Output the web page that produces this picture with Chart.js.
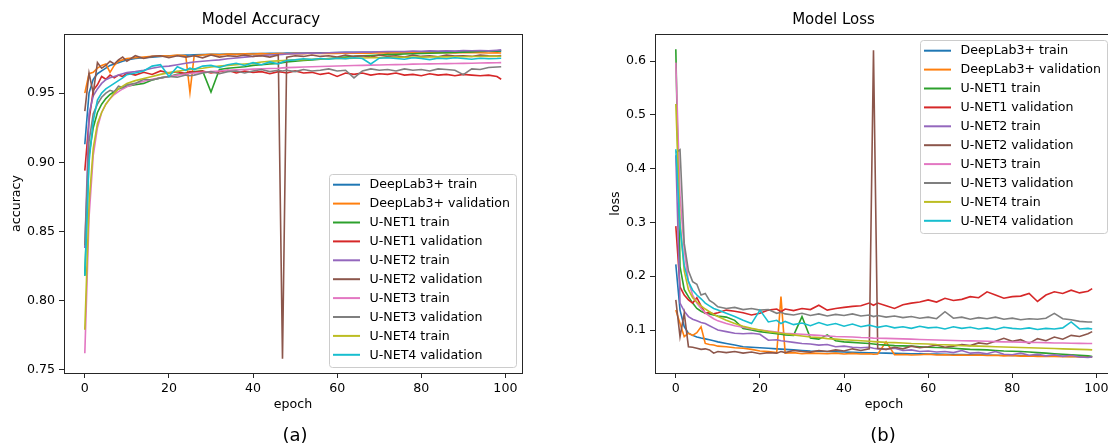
<!DOCTYPE html>
<html>
<head>
<meta charset="utf-8">
<script src="https://cdn.jsdelivr.net/npm/chart.js@4.4.0/dist/chart.umd.min.js"></script>
<style>
  html, body { margin: 0; padding: 0; background: #fff; overflow: hidden; width: 1108px; height: 448px; }
  #wrap { position: relative; width: 1108px; height: 448px; overflow: hidden; }
  canvas { position: absolute; top: 0; }
  #accCanvas { left: 0; }
  #lossCanvas { left: 554px; }
  .cap { position: absolute; top: 424px; line-height: 22px; font: 18px "DejaVu Sans"; color: #000; transform: translateX(-50%); }
</style>
</head>
<body>
<div id="wrap">
  <canvas id="accCanvas" width="554" height="448"></canvas>
  <canvas id="lossCanvas" width="600" height="448"></canvas>
  <div class="cap" style="left:295px">(a)</div>
  <div class="cap" style="left:883px">(b)</div>
</div>
<script>
// --- data ---
const epochs = [0,1,2,3,4,5,6,7,8,9,10,
  12,14,16,18,20,22,24,25,
  26,28,30,32,34,36,38,40,42,44,46,47,
  48,50,52,54,56,58,60,62,64,66,68,70,72,
  74,76,78,80,82,84,86,88,90,92,94,96,98,99];

const seriesNames = ['DeepLab3+ train', 'DeepLab3+ validation', 'U-NET1 train', 'U-NET1 validation',
  'U-NET2 train', 'U-NET2 validation', 'U-NET3 train', 'U-NET3 validation', 'U-NET4 train', 'U-NET4 validation'];
const colors = ['#1f77b4', '#ff7f0e', '#2ca02c', '#d62728', '#9467bd', '#8c564b', '#e377c2', '#7f7f7f', '#bcbd22', '#17becf'];

const xTicks = [0, 20, 40, 60, 80, 100];
const accTicks = [0.75, 0.80, 0.85, 0.90, 0.95];
const lossTicks = [0.1, 0.2, 0.3, 0.4, 0.5, 0.6];

// accuracy
const accDlTrain = [0.913,0.950,0.960,0.964,0.966,0.968,0.970,0.971,0.972,0.973,0.974,
  0.975,0.9755,0.976,0.9765,0.977,0.9772,0.9774,0.9775,
  0.9776,0.9778,0.978,0.978,0.9782,0.9783,0.9784,0.9785,0.9786,0.9787,0.9788,0.9788,
  0.9789,0.979,0.979,0.9791,0.9792,0.9792,0.9793,0.9794,0.9794,0.9795,0.9795,0.9796,0.9796,
  0.9797,0.9797,0.9798,0.9798,0.9799,0.9799,0.98,0.98,0.98,0.9801,0.9801,0.9802,0.9802,0.9802];
const accDlVal = [0.950,0.964,0.965,0.968,0.970,0.971,0.965,0.970,0.973,0.974,0.975,
  0.9755,0.976,0.9765,0.977,0.9768,0.9775,0.977,0.9505,
  0.977,0.9775,0.978,0.9776,0.9782,0.978,0.9784,0.9782,0.9785,0.9783,0.9786,0.9785,
  0.9784,0.9787,0.9785,0.9788,0.9786,0.9789,0.9787,0.979,0.9788,0.979,0.9789,0.9791,0.9789,
  0.9791,0.979,0.9792,0.979,0.9792,0.9791,0.9792,0.979,0.9793,0.9791,0.9792,0.979,0.9792,0.979];
const accU1Train = [0.818,0.905,0.925,0.936,0.942,0.946,0.949,0.951,0.953,0.954,0.955,
  0.956,0.957,0.9595,0.961,0.962,0.9635,0.9645,0.965,
  0.9655,0.966,0.9507,0.967,0.968,0.9685,0.969,0.970,0.9705,0.971,0.9715,0.972,
  0.9725,0.973,0.9735,0.974,0.9745,0.975,0.9755,0.976,0.9765,0.977,0.9772,0.9775,0.9778,
  0.978,0.9782,0.9784,0.9786,0.9788,0.979,0.9792,0.9794,0.9796,0.9798,0.98,0.9802,0.9805,0.9808];
const accU1Val = [0.894,0.930,0.952,0.956,0.962,0.960,0.963,0.961,0.963,0.962,0.9645,
  0.963,0.965,0.9635,0.966,0.9645,0.9655,0.964,0.9655,
  0.965,0.966,0.9645,0.9655,0.9665,0.9645,0.966,0.965,0.9655,0.964,0.9655,0.965,
  0.9645,0.966,0.9645,0.965,0.9635,0.9645,0.962,0.9645,0.9635,0.9645,0.963,0.964,0.9635,
  0.9645,0.963,0.9635,0.9625,0.964,0.963,0.9635,0.9625,0.9635,0.963,0.9625,0.963,0.962,0.960];
const accU2Train = [0.838,0.935,0.948,0.953,0.957,0.9597,0.961,0.962,0.963,0.964,0.9648,
  0.9655,0.9665,0.968,0.969,0.9695,0.9705,0.9715,0.972,
  0.9725,0.973,0.9735,0.974,0.9748,0.9754,0.976,0.9765,0.9772,0.9775,0.9778,0.978,
  0.9782,0.9785,0.9787,0.979,0.9788,0.9792,0.9793,0.9795,0.9794,0.9797,0.9796,0.9799,0.98,
  0.9801,0.98,0.9803,0.9802,0.9805,0.9804,0.9806,0.9803,0.9807,0.9806,0.9808,0.9805,0.981,0.9812];
const accU2Val = [0.937,0.9645,0.950,0.972,0.968,0.970,0.973,0.971,0.974,0.976,0.973,
  0.977,0.975,0.9765,0.977,0.9755,0.977,0.976,0.9765,
  0.977,0.9755,0.9775,0.976,0.977,0.9765,0.9775,0.9765,0.977,0.976,0.9775,0.758,
  0.976,0.977,0.9765,0.9775,0.9765,0.977,0.976,0.9775,0.9765,0.977,0.976,0.9775,0.9765,
  0.977,0.976,0.9775,0.9765,0.977,0.9762,0.9775,0.9768,0.977,0.9765,0.9775,0.977,0.9768,0.9772];
const accU3Train = [0.762,0.860,0.905,0.925,0.936,0.942,0.946,0.949,0.951,0.953,0.9545,
  0.957,0.9585,0.960,0.961,0.962,0.963,0.9638,0.9642,
  0.9645,0.965,0.9655,0.966,0.9665,0.9668,0.967,0.9673,0.9676,0.9678,0.968,0.9682,
  0.9684,0.9686,0.9688,0.969,0.9692,0.9694,0.9696,0.9697,0.9699,0.97,0.9702,0.9703,0.9705,
  0.9706,0.9707,0.9709,0.971,0.9711,0.9712,0.9713,0.9714,0.9715,0.9716,0.9717,0.9718,0.9719,0.972];
const accU3Val = [0.840,0.915,0.935,0.942,0.947,0.950,0.952,0.951,0.955,0.954,0.956,
  0.957,0.960,0.9595,0.961,0.962,0.9615,0.963,0.9625,
  0.963,0.9645,0.9655,0.964,0.9655,0.966,0.9645,0.966,0.967,0.9655,0.9665,0.966,
  0.9665,0.9655,0.967,0.966,0.9665,0.9675,0.966,0.9665,0.961,0.966,0.9675,0.9665,0.967,
  0.966,0.9675,0.9665,0.967,0.966,0.9675,0.967,0.9665,0.9633,0.9675,0.967,0.9685,0.9688,0.969];
const accU4Train = [0.779,0.870,0.910,0.928,0.936,0.942,0.946,0.950,0.953,0.955,0.957,
  0.959,0.9605,0.962,0.9635,0.9648,0.9658,0.9667,0.967,
  0.9675,0.968,0.9688,0.9695,0.970,0.9706,0.971,0.9715,0.9725,0.973,0.9733,0.9735,
  0.9737,0.974,0.9742,0.9744,0.9746,0.9748,0.975,0.9751,0.9752,0.9754,0.9755,0.9756,0.9757,
  0.9758,0.9759,0.976,0.976,0.9761,0.9762,0.9762,0.9763,0.9763,0.9764,0.9764,0.9765,0.9765,0.9766];
const accU4Val = [0.818,0.900,0.930,0.945,0.950,0.953,0.955,0.957,0.959,0.961,0.9633,
  0.9645,0.966,0.9695,0.9705,0.962,0.969,0.9665,0.968,
  0.967,0.9695,0.970,0.9685,0.9705,0.9715,0.970,0.972,0.9705,0.9725,0.971,0.9725,
  0.9735,0.974,0.9748,0.9743,0.975,0.9745,0.9752,0.9748,0.9755,0.975,0.971,0.9752,0.9755,
  0.975,0.9745,0.9755,0.975,0.9742,0.9752,0.9748,0.9755,0.975,0.9745,0.9752,0.9748,0.975,0.9752];

// loss
const lossDlTrain = [0.222,0.137,0.106,0.094,0.090,0.087,0.085,0.0835,0.082,0.080,0.078,
  0.075,0.072,0.069,0.068,0.067,0.066,0.065,0.0645,
  0.064,0.063,0.062,0.061,0.0605,0.060,0.0595,0.059,0.0585,0.058,0.0578,0.0576,
  0.0574,0.057,0.0566,0.0563,0.056,0.0557,0.0554,0.0551,0.0548,0.0545,0.0542,0.054,0.0537,
  0.0535,0.0532,0.053,0.0527,0.0525,0.0522,0.052,0.0517,0.0515,0.0512,0.051,0.0507,0.0505,0.0502];
const lossDlVal = [0.137,0.112,0.0875,0.094,0.090,0.095,0.106,0.075,0.073,0.072,0.070,
  0.069,0.067,0.066,0.064,0.061,0.060,0.058,0.162,
  0.057,0.058,0.056,0.057,0.0565,0.056,0.057,0.0555,0.0565,0.0555,0.056,0.055,
  0.0555,0.078,0.054,0.0545,0.0535,0.054,0.055,0.0535,0.054,0.053,0.0535,0.053,0.0535,
  0.0525,0.053,0.052,0.0525,0.0515,0.052,0.051,0.0515,0.051,0.0505,0.051,0.050,0.0505,0.050];
const lossU1Train = [0.622,0.218,0.175,0.162,0.150,0.140,0.135,0.131,0.130,0.128,0.126,
  0.124,0.118,0.103,0.100,0.097,0.095,0.093,0.092,
  0.091,0.090,0.125,0.085,0.083,0.091,0.080,0.078,0.077,0.076,0.075,0.074,
  0.073,0.072,0.071,0.0705,0.070,0.069,0.068,0.0675,0.067,0.066,0.065,0.064,0.0635,
  0.063,0.062,0.061,0.0605,0.060,0.059,0.058,0.057,0.056,0.055,0.054,0.053,0.052,0.0505];
const lossU1Val = [0.293,0.180,0.165,0.156,0.150,0.160,0.145,0.131,0.133,0.130,0.132,
  0.137,0.135,0.132,0.128,0.131,0.137,0.139,0.134,
  0.139,0.136,0.140,0.138,0.146,0.137,0.140,0.142,0.144,0.145,0.150,0.146,
  0.150,0.145,0.140,0.147,0.150,0.152,0.156,0.152,0.159,0.155,0.157,0.162,0.160,
  0.171,0.165,0.159,0.162,0.163,0.168,0.153,0.165,0.171,0.168,0.174,0.169,0.172,0.177];
const lossU2Train = [0.425,0.150,0.135,0.125,0.120,0.117,0.114,0.112,0.108,0.104,0.100,
  0.097,0.094,0.093,0.094,0.092,0.081,0.082,0.080,
  0.079,0.077,0.075,0.074,0.072,0.073,0.069,0.070,0.068,0.067,0.068,0.066,
  0.065,0.064,0.066,0.062,0.063,0.060,0.061,0.059,0.060,0.058,0.062,0.057,0.058,
  0.056,0.060,0.055,0.054,0.057,0.053,0.055,0.052,0.054,0.051,0.053,0.050,0.049,0.050];
const lossU2Val = [0.156,0.0875,0.131,0.069,0.068,0.066,0.064,0.065,0.063,0.057,0.060,
  0.058,0.060,0.057,0.059,0.056,0.058,0.057,0.060,
  0.058,0.062,0.060,0.059,0.062,0.060,0.063,0.061,0.065,0.062,0.065,0.620,
  0.066,0.064,0.068,0.065,0.070,0.067,0.069,0.072,0.068,0.070,0.073,0.071,0.076,
  0.074,0.079,0.0845,0.079,0.082,0.075,0.084,0.080,0.087,0.083,0.090,0.088,0.093,0.097];
const lossU3Train = [0.597,0.350,0.250,0.190,0.165,0.150,0.140,0.132,0.126,0.121,0.117,
  0.112,0.108,0.105,0.102,0.100,0.098,0.096,0.095,
  0.094,0.093,0.092,0.091,0.090,0.089,0.088,0.0875,0.087,0.086,0.0855,0.085,
  0.0848,0.0845,0.084,0.0835,0.083,0.0825,0.082,0.0815,0.081,0.0805,0.080,0.0798,0.0795,
  0.079,0.0785,0.078,0.0778,0.0775,0.077,0.0768,0.0765,0.076,0.0758,0.0755,0.0752,0.075,0.075];
const lossU3Val = [0.430,0.435,0.261,0.210,0.190,0.185,0.165,0.168,0.155,0.150,0.143,
  0.140,0.142,0.138,0.140,0.137,0.138,0.131,0.133,
  0.130,0.128,0.131,0.127,0.130,0.126,0.129,0.127,0.130,0.126,0.128,0.125,
  0.127,0.124,0.126,0.123,0.125,0.122,0.124,0.121,0.134,0.122,0.124,0.120,0.123,
  0.121,0.124,0.120,0.122,0.119,0.121,0.120,0.122,0.131,0.121,0.119,0.116,0.115,0.115];
const lossU4Train = [0.520,0.300,0.210,0.175,0.160,0.152,0.145,0.139,0.134,0.129,0.125,
  0.118,0.112,0.107,0.103,0.100,0.097,0.095,0.094,
  0.093,0.091,0.089,0.087,0.086,0.084,0.083,0.082,0.081,0.080,0.079,0.0785,
  0.078,0.077,0.0765,0.076,0.075,0.0745,0.074,0.073,0.0725,0.072,0.071,0.0705,0.070,
  0.0695,0.069,0.0685,0.068,0.0675,0.067,0.0665,0.066,0.0655,0.065,0.0645,0.064,0.0635,0.063];
const lossU4Val = [0.436,0.292,0.220,0.190,0.174,0.165,0.158,0.150,0.145,0.140,0.137,
  0.131,0.125,0.118,0.112,0.137,0.115,0.118,0.112,
  0.116,0.110,0.113,0.108,0.114,0.109,0.112,0.107,0.111,0.106,0.109,0.107,
  0.105,0.108,0.104,0.106,0.103,0.107,0.104,0.105,0.102,0.106,0.103,0.105,0.102,
  0.104,0.101,0.105,0.103,0.102,0.104,0.101,0.103,0.102,0.104,0.115,0.102,0.103,0.102];

const accSeries = [accDlTrain, accDlVal, accU1Train, accU1Val, accU2Train, accU2Val, accU3Train, accU3Val, accU4Train, accU4Val];
const lossSeries = [lossDlTrain, lossDlVal, lossU1Train, lossU1Val, lossU2Train, lossU2Val, lossU3Train, lossU3Val, lossU4Train, lossU4Val];

const FONT = '"DejaVu Sans", sans-serif';

// box around the plot area, like matplotlib spines
const framePlugin = {
  id: 'frame',
  afterDatasetsDraw(chart) {
    const { ctx, chartArea: a } = chart;
    ctx.save();
    ctx.strokeStyle = '#262626';
    ctx.lineWidth = 1;
    ctx.strokeRect(Math.round(a.left) + 0.5, Math.round(a.top) + 0.5,
      Math.round(a.right - a.left), Math.round(a.bottom - a.top));
    ctx.restore();
  }
};

// legend drawn inside the plot area
const boxLegend = {
  id: 'boxLegend',
  afterDraw(chart, args, opts) {
    const { ctx, chartArea: a } = chart;
    const sets = chart.data.datasets;
    ctx.save();
    ctx.font = '12.6px ' + FONT;
    const textW = Math.max(...sets.map(d => ctx.measureText(d.label).width));
    const w = 41 + textW + 6, h = 193, rowH = 18.9;
    const left = a.right - 6 - w;
    const top = opts.corner === 'upper' ? a.top + 6 : a.bottom - 6 - h;
    ctx.beginPath();
    if (ctx.roundRect) ctx.roundRect(Math.round(left) + 0.5, Math.round(top) + 0.5, Math.round(w), h, 3);
    else ctx.rect(Math.round(left) + 0.5, Math.round(top) + 0.5, Math.round(w), h);
    ctx.fillStyle = 'rgba(255,255,255,0.8)';
    ctx.fill();
    ctx.strokeStyle = '#cccccc';
    ctx.lineWidth = 1;
    ctx.stroke();
    ctx.textBaseline = 'middle';
    sets.forEach((d, i) => {
      const y = top + 10.7 + i * rowH;
      ctx.strokeStyle = d.borderColor;
      ctx.lineWidth = 2;
      ctx.beginPath();
      ctx.moveTo(left + 4.5, y);
      ctx.lineTo(left + 31.5, y);
      ctx.stroke();
      ctx.fillStyle = '#000';
      ctx.fillText(d.label, left + 41, y + 0.5);
    });
    ctx.restore();
  }
};

function makeDatasets(series) {
  return series.map((vals, i) => ({
    label: seriesNames[i],
    data: epochs.map((e, j) => ({ x: e, y: vals[j] })),
    borderColor: colors[i],
    backgroundColor: colors[i],
    borderWidth: 1.6,
    pointRadius: 0,
    tension: 0,
    fill: false,
    order: seriesNames.length - i
  }));
}

function makeChart(canvasId, opt) {
  return new Chart(document.getElementById(canvasId), {
    type: 'line',
    data: { datasets: makeDatasets(opt.series) },
    plugins: [framePlugin, boxLegend],
    options: {
      responsive: false,
      animation: false,
      devicePixelRatio: 1,
      layout: { padding: { left: 0, right: opt.padRight, top: 0, bottom: 0 } },
      plugins: {
        legend: { display: false },
        tooltip: { enabled: false },
        title: {
          display: true, text: opt.title, color: '#000',
          font: { family: FONT, size: 15, weight: 'normal', lineHeight: 1.2 },
          padding: { top: 11, bottom: 5 }
        },
        boxLegend: { corner: opt.legendCorner }
      },
      scales: {
        x: {
          type: 'linear', min: -4.95, max: 103.95,
          afterBuildTicks: s => { s.ticks = xTicks.map(v => ({ value: v })); },
          afterFit: s => { s.height = 75; },
          ticks: { autoSkip: false, maxRotation: 0, padding: 3, color: '#000',
            font: { family: FONT, size: 12.6 }, callback: v => String(v) },
          grid: { display: true, drawOnChartArea: false, drawTicks: true, tickLength: 5, color: '#262626' },
          border: { display: false },
          title: { display: true, text: 'epoch', color: '#000',
            font: { family: FONT, size: 12.6, lineHeight: 1.2 }, padding: { top: 0, bottom: 35.4 } }
        },
        y: {
          type: 'linear', min: opt.yMin, max: opt.yMax,
          afterBuildTicks: s => { s.ticks = opt.yTicks.map(v => ({ value: v })); },
          afterFit: s => { s.width = opt.yWidth; },
          ticks: { autoSkip: false, padding: 4, color: '#000',
            font: { family: FONT, size: 12.6 }, callback: v => v.toFixed(opt.decimals) },
          grid: { display: true, drawOnChartArea: false, drawTicks: true, tickLength: 5, color: '#262626' },
          border: { display: false },
          title: { display: true, text: opt.yLabel, color: '#000',
            font: { family: FONT, size: 12.6, lineHeight: 1.2 }, padding: { top: opt.yTitlePad, bottom: 0 } }
        }
      }
    }
  });
}

makeChart('accCanvas', {
  series: accSeries, title: 'Model Accuracy', yLabel: 'accuracy',
  yMin: 0.7477, yMax: 0.9927, yTicks: accTicks, decimals: 2,
  yWidth: 64, yTitlePad: 9.4, padRight: 32, legendCorner: 'lower'
});

makeChart('lossCanvas', {
  series: lossSeries, title: 'Model Loss', yLabel: 'loss',
  yMin: 0.0201, yMax: 0.6502, yTicks: lossTicks, decimals: 1,
  yWidth: 101, yTitlePad: 54.4, padRight: 41, legendCorner: 'upper'
});
</script>
</body>
</html>
